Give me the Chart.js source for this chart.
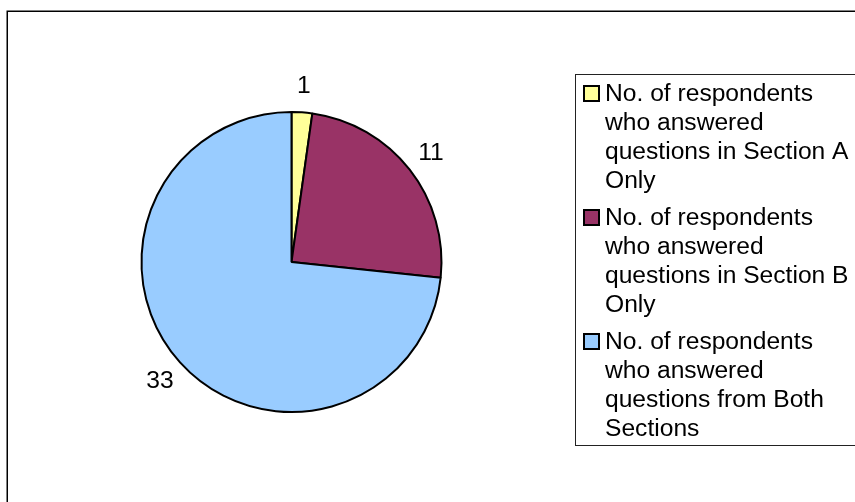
<!DOCTYPE html>
<html><head><meta charset="utf-8">
<script src="https://cdn.jsdelivr.net/npm/chart.js@4.4.1/dist/chart.umd.min.js"></script>
<style>html,body{margin:0;padding:0;background:#fff;overflow:hidden}canvas{display:block}</style>
</head><body>
<canvas id="c" width="855" height="502"></canvas>
<script>
const categories = [
  'No. of respondents who answered questions in Section A Only',
  'No. of respondents who answered questions in Section B Only',
  'No. of respondents who answered questions from Both Sections'
];
const values = [1, 11, 33];
const colors = ['#FFFF99', '#993366', '#99CCFF'];

const FONT = '23px "Liberation Sans", Arial, sans-serif';
const SX = 1.07;

const framePlugin = {
  id: 'frame',
  beforeDraw(chart) {
    const ctx = chart.ctx;
    ctx.save();
    ctx.fillStyle = '#fff';
    ctx.fillRect(0, 0, chart.width, chart.height);
    ctx.strokeStyle = '#000';
    ctx.lineWidth = 1.5;
    ctx.beginPath();
    ctx.moveTo(7.25, chart.height + 5);
    ctx.lineTo(7.25, 11.25);
    ctx.lineTo(chart.width + 5, 11.25);
    ctx.stroke();
    ctx.restore();
  }
};

function scaledText(ctx, txt, x, y, align) {
  ctx.save();
  ctx.translate(x, y);
  ctx.scale(SX, 1);
  ctx.textAlign = align;
  ctx.fillText(txt, 0, 0);
  ctx.restore();
}

const labelPlugin = {
  id: 'sliceLabels',
  afterDatasetsDraw(chart) {
    const ctx = chart.ctx;
    const meta = chart.getDatasetMeta(0);
    ctx.save();
    ctx.font = FONT;
    ctx.fillStyle = '#000';
    ctx.textBaseline = 'middle';
    meta.data.forEach((arc, i) => {
      const mid = (arc.startAngle + arc.endAngle) / 2;
      const r = arc.outerRadius + 27;
      scaledText(ctx, String(chart.data.datasets[0].data[i]), arc.x + Math.cos(mid) * r, arc.y + Math.sin(mid) * r + 1, 'center');
    });
    ctx.restore();
  }
};

function wrap(ctx, text, maxW) {
  const words = text.split(' ');
  const lines = [];
  let cur = '';
  words.forEach(w => {
    const t = cur ? cur + ' ' + w : w;
    if (ctx.measureText(t).width * SX > maxW && cur) { lines.push(cur); cur = w; }
    else cur = t;
  });
  if (cur) lines.push(cur);
  return lines;
}

const legendPlugin = {
  id: 'boxLegend',
  afterDraw(chart) {
    const ctx = chart.ctx;
    ctx.save();
    ctx.strokeStyle = '#222';
    ctx.lineWidth = 1;
    ctx.strokeRect(575.5, 74.5, 300, 371);
    ctx.font = FONT;
    ctx.textBaseline = 'middle';
    let y = 94;
    chart.data.labels.forEach((lab, i) => {
      const bg = chart.data.datasets[0].backgroundColor[i];
      ctx.fillStyle = bg;
      ctx.fillRect(584, y - 8, 15, 15);
      ctx.strokeStyle = '#000';
      ctx.lineWidth = 2;
      ctx.strokeRect(584, y - 8, 15, 15);
      ctx.fillStyle = '#000';
      const lines = wrap(ctx, lab, 250);
      lines.forEach((ln, k) => scaledText(ctx, ln, 605, y + k * 29 + 1, 'left'));
      y += lines.length * 29 + 8;
    });
    ctx.restore();
  }
};

new Chart(document.getElementById('c'), {
  type: 'pie',
  data: {
    labels: categories,
    datasets: [{
      data: values,
      backgroundColor: colors,
      borderColor: '#000',
      borderWidth: 2
    }]
  },
  options: {
    responsive: false,
    animation: false,
    radius: 150,
    layout: { padding: { left: 141, right: 413, top: 111, bottom: 89 } },
    plugins: { legend: { display: false }, tooltip: { enabled: false } }
  },
  plugins: [framePlugin, labelPlugin, legendPlugin]
});
</script>
</body></html>
